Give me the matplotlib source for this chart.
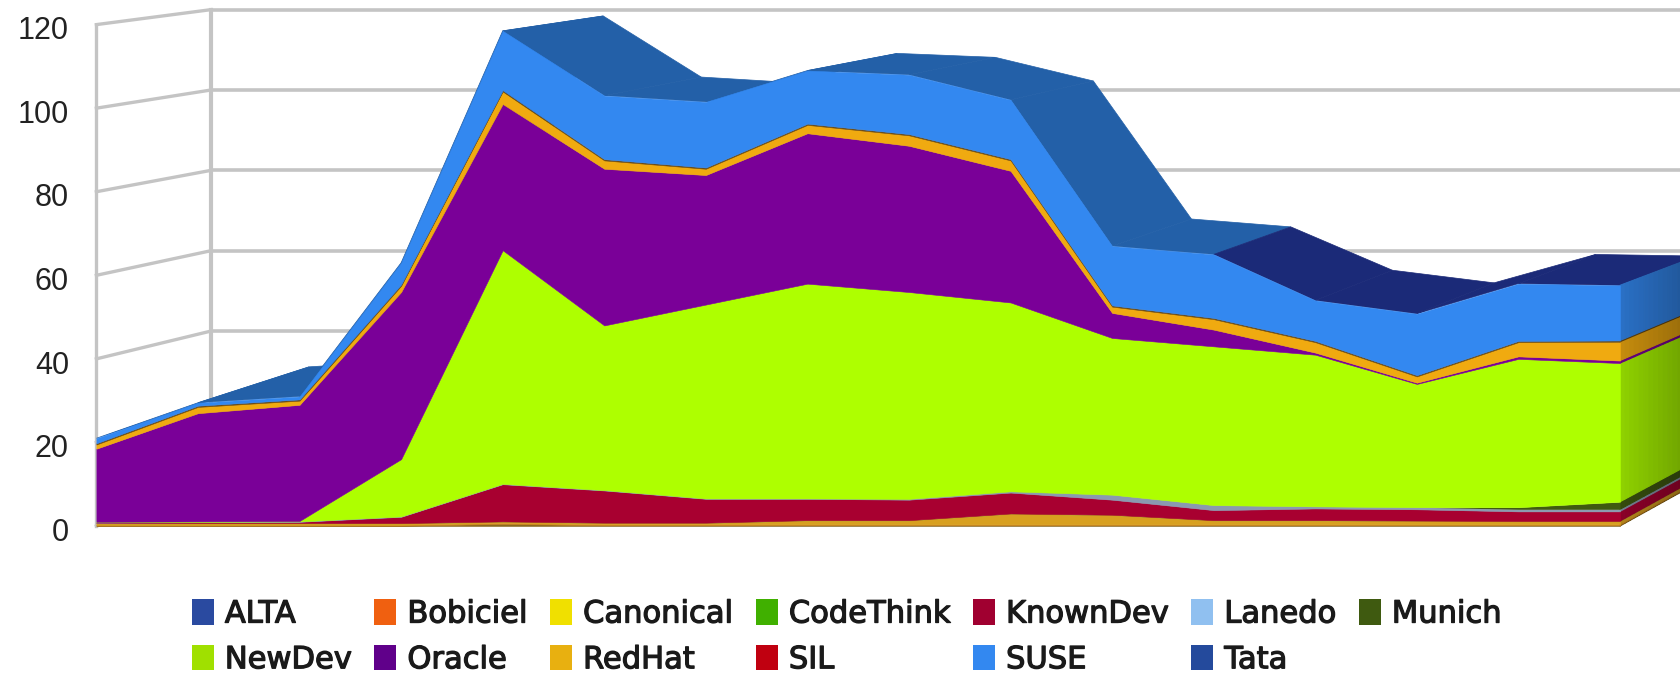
#!/usr/bin/python
# -*- coding: utf-8 -*-

import numpy as np
import matplotlib
matplotlib.use("Agg")
import matplotlib.pyplot as plt
from matplotlib.patches import Patch, Polygon
from matplotlib.colors import to_rgb
import matplotlib.patheffects as pe

# one value per release, stacked in legend order
names = ["ALTA", "Bobiciel", "Canonical", "CodeThink", "KnownDev", "Lanedo", "Munich",
         "NewDev", "Oracle", "RedHat", "SIL", "SUSE", "Tata"]
alta = [.1, .1, .1, .1, .5, .2, .2, .2, .2, .2, .2, .2, .2, .2, .2, .2]
bobiciel = [.2, .2, .2, .2, .2, .2, .2, .2, .2, .2, .2, .2, .2, .2, .2, .2]
canonical = [.3, .3, .3, .3, .3, .3, .3, .9, .9, 2.5, 2.2, .9, .9, .8, .7, .7]
codethink = [.1, .1, .1, .1, .1, .1, .1, .1, .1, .1, .1, .1, .1, .1, .1, .1]
knowndev = [.1, .2, .3, 1.5, 8.9, 7.7, 5.7, 5.1, 4.9, 5.0, 3.6, 2.4, 2.8, 2.7, 2.3, 2.3]
lanedo = [.1, .1, .1, .1, .1, .1, .1, .1, .2, .3, 1.2, 1.2, .5, .5, .5, .5]
munich = [0, 0, 0, 0, 0, 0, 0, 0, 0, 0, 0, 0, 0, 0, .5, 1.8]
newdev = [.1, .1, .1, 13.7, 55.9, 39.4, 46.4, 51.4, 49.5, 45.2, 37.5, 38, 36.3, 29.5, 35.5, 33.2]
oracle = [17.5, 25.9, 27.8, 40, 35, 37.5, 31, 36, 35, 31.5, 6, 4, .5, .3, .6, .6]
redhat = [1.0, 1.5, 1, 1.5, 3, 2, 1.5, 2, 2.5, 2.5, 1.5, 2.5, 2.5, 1.5, 3.4, 4.5]
sil = [.3, .3, .3, .3, .3, .3, .3, .3, .3, .3, .3, .3, .3, .3, .3, .3]
suse = [1.2, .7, .7, 5.2, 14.2, 15.2, 15.7, 12.7, 14.2, 14.2, 14.2, 15.2, 9.7, 14.7, 13.7, 13.2]
tata = [0, 0, 0, 0, 0, 0, 0, 0, 0, 0, 0, 0, 0, 0, 0, 0]
series = [alta, bobiciel, canonical, codethink, knowndev, lanedo, munich,
          newdev, oracle, redhat, sil, suse, tata]
yticks = [0, 20, 40, 60, 80, 100, 120]

fill_colors = ["#8a6a20", "#c8801a", "#d8a020", "#b8a020", "#a80030", "#8a9ab0", "#3f5a10",
               "#aeff00", "#7a0098", "#f0aa10", "#6b4a12", "#3388f0", "#1b2a78"]
legend_colors = ["#2a4aa0", "#f06010", "#f0e000", "#40b000", "#a00030", "#90c0f0", "#3f5a10",
                 "#a0e000", "#60008a", "#e8b010", "#c00010", "#3388f0", "#244a9c"]
# shade of the top face, one per segment between two releases
mid_blue = "#2360a8"
navy = "#1b2a78"
top_colors = [mid_blue] * 11 + [navy] * 4
grid_color = "#c4c4c4"

plt.rcParams['font.family'] = ['Liberation Sans', 'DejaVu Sans']

fig = plt.figure(figsize=(16.8, 6.76), dpi=100, facecolor='white')
ax = fig.add_axes([96.4 / 1680, (676 - 526) / 676, 1523.6 / 1680, 501.4 / 676])
ax.set_xlim(0, 15)
ax.set_ylim(0, 120)
ax.axis('off')

x = np.arange(16)
stack = np.cumsum(np.array(series, dtype=float), axis=0)
wall_depth = 107 / 94.8


def back_x(xval):
    # depth edges get shorter going right, perspective
    return xval + max(107 - 3.3 * xval, 72) / 94.8


def back_value(val):
    # and steeper going down
    return val + (40 - 0.22 * val) / 3.9


# walls
for tick in yticks:
    vb = 8.2 + 0.9615 * tick
    ax.plot([0, wall_depth], [tick, vb], color=grid_color, lw=2.4, clip_on=False, zorder=1)
    ax.plot([wall_depth, 15.9], [vb, vb], color=grid_color, lw=2.6, clip_on=False, zorder=1)
ax.plot([0, 0], [0, 120], color=grid_color, lw=2.4, clip_on=False, zorder=1)
ax.plot([wall_depth, wall_depth], [8.2, 8.2 + 0.9615 * 120], color=grid_color, lw=3,
        clip_on=False, zorder=1)

# top face of the stack
top = stack[-1]
for i in range(15):
    quad = [(x[i], top[i]), (x[i + 1], top[i + 1]),
            (back_x(x[i + 1]), back_value(top[i + 1])),
            (back_x(x[i]), back_value(top[i]))]
    ax.add_patch(Polygon(quad, closed=True, facecolor=top_colors[i], edgecolor=top_colors[i],
                         lw=0.5, clip_on=False, zorder=2))

# right hand side, darker towards the back
steps = 16
edge_x = back_x(15)
for k in range(len(series)):
    lo = stack[k - 1][-1] if k > 0 else 0
    hi = stack[k][-1]
    if hi - lo <= 0:
        continue
    base = np.array(to_rgb(fill_colors[k]))
    for s in range(steps):
        t0 = s / steps
        t1 = (s + 1) / steps
        shade = tuple(base * (0.82 - 0.22 * t0))
        quad = [(15 + t0 * (edge_x - 15), lo + t0 * (back_value(lo) - lo)),
                (15 + t1 * (edge_x - 15), lo + t1 * (back_value(lo) - lo)),
                (15 + t1 * (edge_x - 15), hi + t1 * (back_value(hi) - hi)),
                (15 + t0 * (edge_x - 15), hi + t0 * (back_value(hi) - hi))]
        ax.add_patch(Polygon(quad, closed=True, facecolor=shade, edgecolor=shade,
                             lw=0.8, clip_on=False, zorder=3))

# front
polys = ax.stackplot(x, series, colors=fill_colors, lw=0.4, edgecolor='face', zorder=4)
polys[names.index("Munich")].set_linewidth(0)
polys[names.index("Tata")].set_linewidth(0)

for tick in yticks:
    ax.text(-0.27, tick - 1.6, str(tick), ha='right', va='center', fontsize=22, color="#222222")

# legend fills column by column, the picture reads row by row
order = [0, 7, 1, 8, 2, 9, 3, 10, 4, 11, 5, 12, 6]
handles = [Patch(facecolor=legend_colors[j], edgecolor='none') for j in order]
labels = [names[j] for j in order]
leg = fig.legend(handles, labels, ncols=7, loc='center', bbox_to_anchor=(0.504, 0.058),
                 frameon=False, handlelength=0.72, handleheight=0.9, handletextpad=0.36,
                 columnspacing=0.75, labelspacing=0.54, borderpad=0,
                 prop={'family': 'DejaVu Sans', 'size': 22})
for txt in leg.get_texts():
    txt.set_color("#1a1a1a")
    txt.set_path_effects([pe.withStroke(linewidth=0.9, foreground="#1a1a1a")])

fig.savefig("out.png", dpi=100)
